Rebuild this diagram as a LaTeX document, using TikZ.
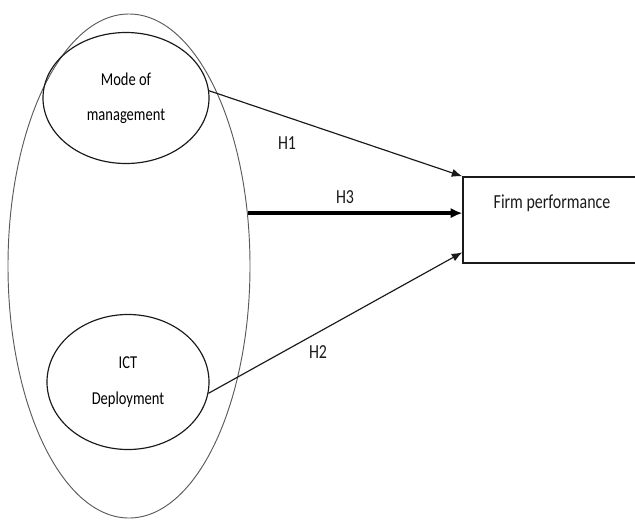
\documentclass[tikz,border=0pt]{standalone}
\usepackage{fontspec}
\setmainfont{Carlito}[FakeStretch=0.8]
\usepackage{tikz}
\usetikzlibrary{calc, positioning, shapes.geometric, arrows.meta}
\definecolor{InkBlack}{HTML}{1A1A1A}
\definecolor{RimGray}{HTML}{5A5A5A}

\begin{document}
\begin{tikzpicture}[
    x=0.03cm, y=-0.03cm,
    rim/.style={ellipse, draw=RimGray, line width=0.8pt, inner sep=0pt},
    construct/.style={ellipse, draw=InkBlack, line width=1pt, inner sep=0pt,
                      align=center, font=\fontsize{15.5pt}{30pt}\selectfont},
    outcome/.style={draw=InkBlack, line width=1.2pt, minimum width=6.6cm,
                    minimum height=2.58cm, inner sep=0pt},
    arr/.style={-{Latex[length=9pt, width=7pt]}, line width=1pt, InkBlack},
    thickarr/.style={-{Latex[length=10pt, width=9pt]}, line width=3.4pt, black},
    hyp/.style={font=\fontsize{17pt}{20pt}\selectfont, text=InkBlack}
  ]
    \clip (0,0) rectangle (635,519);

    % Outer grouping ellipse
    \node[rim, minimum width=7.26cm, minimum height=15.12cm] (outer) at (129,266) {};

    % Independent constructs
    \node[construct, minimum width=4.98cm, minimum height=3.93cm] (mode) at (126,98)
        {Mode of\\management};
    \node[construct, minimum width=4.86cm, minimum height=4.05cm] (ict) at (128,382)
        {ICT\\Deployment};

    % Outcome (right side runs off the page)
    \node[outcome] (firm) at (573,220) {};
    \node[hyp] (firmtxt) at (552,203) {Firm performance};

    % Hypothesised paths
    \draw[arr] (mode.5) -- (firm.north west);
    \draw[thickarr] (outer.24) -- (outer.24 -| firm.west);
    \draw[arr] (ict.-8) -- ($(firm.north west)!0.87!(firm.south west)$);

    % Path labels
    \node[hyp] (h1) at (287,143) {H1};
    \node[hyp] (h3) at (345,197) {H3};
    \node[hyp] (h2) at (318,352) {H2};
\end{tikzpicture}
\end{document}
